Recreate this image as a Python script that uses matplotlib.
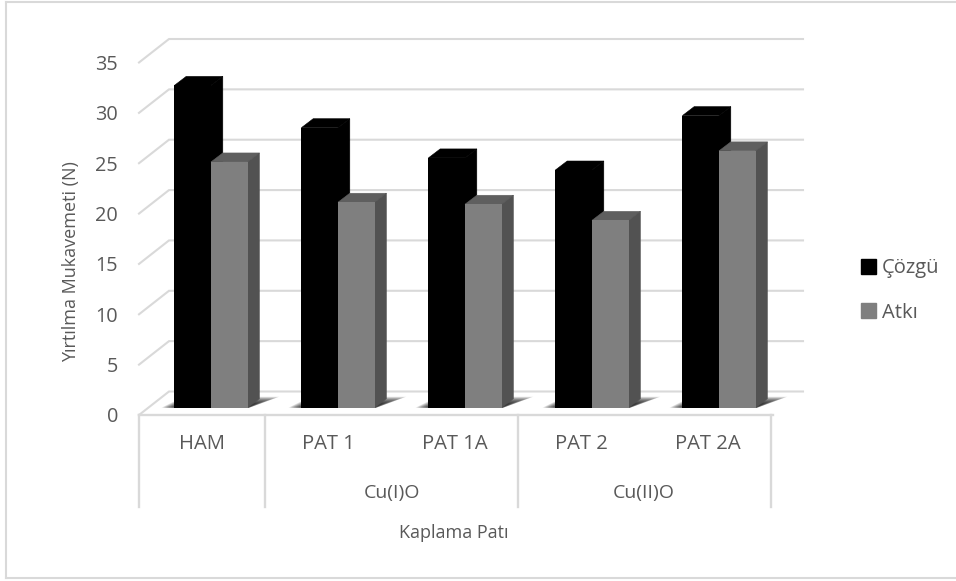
import matplotlib
matplotlib.use("Agg")
import matplotlib.pyplot as plt
from matplotlib.patches import Rectangle
from matplotlib.lines import Line2D
import numpy as np

categories = ["HAM", "PAT 1", "PAT 1A", "PAT 2", "PAT 2A"]
groups = ["Cu(I)O", "Cu(II)O"]
cozgu = [32.0, 27.8, 24.8, 23.6, 29.0]
atki = [24.4, 20.4, 20.2, 18.6, 25.5]
y_ticks = [0, 5, 10, 15, 20, 25, 30, 35]

W, H = 956, 581
plt.rcParams["font.family"] = ["Open Sans", "DejaVu Sans"]
TXT = "#595959"
GRID = "#d9d9d9"

fig = plt.figure(figsize=(W / 100, H / 100), dpi=100, facecolor="white")


def pos(x0, x1, y_bottom, y_top):
    return [x0 / W, 1 - y_bottom / H, (x1 - x0) / W, (y_bottom - y_top) / H]


# Chart frame (left, top, bottom edges)
for xs, ys in [((6, 6), (2, 578)), ((6, W), (2, 2)), ((6, W), (578, 578))]:
    fig.add_artist(Line2D([x / W for x in xs], [1 - y / H for y in ys], color=GRID, lw=1.5))

# Front plane axes: carries the real ticks and labels
ax = fig.add_axes(pos(139, 770.5, 415, 62.5))
ax.set_xlim(-0.5, 4.5)
ax.set_ylim(0, 35)
ax.patch.set_alpha(0)
for s in ax.spines.values():
    s.set_visible(False)
ax.set_xticks(range(len(categories)), categories)
ax.set_yticks(y_ticks)
ax.tick_params(axis="both", length=0, labelcolor=TXT)
ax.tick_params(axis="y", pad=15, labelsize=14.3)
ax.tick_params(axis="x", pad=14, labelsize=14.6)

ux = 631.5 / 5
uy = 352.5 / 35
back_dx = 30 / ux
back_dy = 23.5 / uy
x_end = -0.5 + (803 - 139) / ux
for v in y_ticks:
    ax.plot([-0.5, -0.5 + back_dx, x_end], [v, v + back_dy, v + back_dy],
            color=GRID, lw=1.5, clip_on=False, zorder=1, solid_joinstyle="miter")
ax.plot([-0.5, 4.5 + 2 / ux], [0, 0], color=GRID, lw=1.7, clip_on=False, zorder=1)

# Hierarchical category separators and labels
drop = -92 / uy
for b in [-0.5, 0.5, 2.5, 4.5]:
    ax.plot([b, b], [0, drop], color=GRID, lw=1.7, clip_on=False, zorder=1)
for c, g in zip([1.5, 3.5], groups):
    ax.text(c, -78 / uy, g, ha="center", va="center", color=TXT, fontsize=14, clip_on=False)
ax.text(1.99, -118 / uy, "Kaplama Patı", ha="center", va="center", color=TXT, fontsize=13, clip_on=False)
ax.text(-0.5 - 68 / ux, 15.2, "Yırtılma Mukavemeti (N)", rotation=90, ha="center", va="center",
        color=TXT, fontsize=13, clip_on=False)

# Bar plane axes (set back in depth from the front plane)
bx = fig.add_axes(pos(147.5, 782.5, 407.7, 55.2))
bx.set_xlim(-0.5, 4.5)
bx.set_ylim(0, 35)
bx.axis("off")
bx.patch.set_alpha(0)
pxx = 635 / 5
pxy = 352.5 / 35
w = 36.6 / pxx
dx = 11.8 / pxx
dy = 9.0 / pxy
x = np.arange(len(categories))

# soft floor shadows
n = 16
for xi in x:
    for i in range(n):
        t = i / (n - 1)
        l = xi - w - (13 - 14 * t) / pxx
        r = xi + w + (2 - 2 * t) / pxx
        yb = 0
        yt = (11 - 7 * t) / pxy
        sl = (22 - 10 * t) / pxx
        sr = (30 - 22 * t) / pxx
        bx.fill([l, r, r + sr, l + sl], [yb, yb, yt, yt], color="black", alpha=0.085,
                lw=0, zorder=1, clip_on=False)


def bar3d(xs, vals, color, top, side, z):
    bx.bar(xs, vals, width=w, align="edge", color=color, zorder=z + 0.2, lw=0)
    for x0, v in zip(xs, vals):
        bx.fill([x0, x0 + dx, x0 + w + dx, x0 + w], [v, v + dy, v + dy, v], facecolor=top,
                edgecolor=top, lw=0.4, zorder=z)
        bx.fill([x0 + w, x0 + w + dx, x0 + w + dx, x0 + w], [0, dy, v + dy, v], facecolor=side,
                edgecolor=side, lw=0.4, zorder=z + 0.1)


bar3d(x - w, cozgu, "#000000", "#000000", "#000000", 3)
bar3d(x, atki, "#7f7f7f", "#5f5f5f", "#525252", 4)

# Legend
handles = [Rectangle((0, 0), 1, 1, color="#000000"), Rectangle((0, 0), 1, 1, color="#7f7f7f")]
leg = fig.legend(handles, ["Çözgü", "Atkı"], loc="center left", bbox_to_anchor=(861 / W, 1 - 290.5 / H),
                 frameon=False, fontsize=14.5, labelcolor=TXT, handlelength=0.72, handleheight=0.72,
                 handletextpad=0.3, labelspacing=1.2, borderpad=0, borderaxespad=0)

fig.savefig("out.png", dpi=100)
